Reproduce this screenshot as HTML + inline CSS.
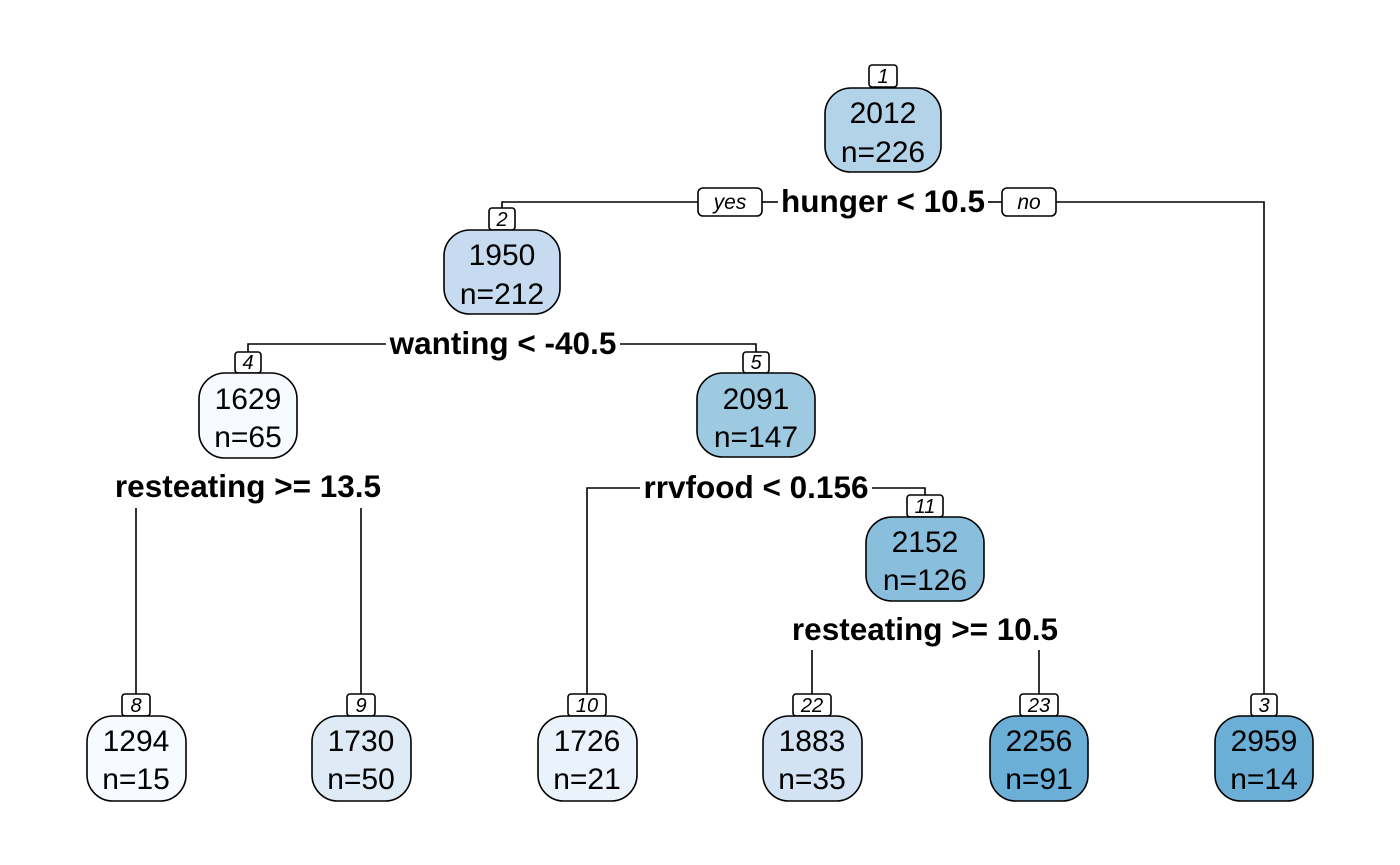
<!DOCTYPE html>
<html><head><meta charset="utf-8"><style>
html,body{margin:0;padding:0;background:#fff;}
svg{display:block;}
.n{font-family:"Liberation Sans",sans-serif;font-size:30px;text-anchor:middle;fill:#000;}
.b{font-family:"Liberation Sans",sans-serif;font-size:31.5px;font-weight:bold;text-anchor:middle;fill:#000;}
.i{font-family:"Liberation Sans",sans-serif;font-size:20px;font-style:italic;text-anchor:middle;fill:#000;}
.l{stroke:#000;stroke-width:1.6;fill:none;}
rect{stroke:#000;stroke-width:1.6;}
</style></head><body>
<svg width="1400" height="865" viewBox="0 0 1400 865" xmlns="http://www.w3.org/2000/svg">
<polyline class="l" points="502,208 502,202 698,202"/>
<line class="l" x1="762" y1="202" x2="778" y2="202"/>
<line class="l" x1="988" y1="202" x2="1002" y2="202"/>
<polyline class="l" points="1056,202 1264,202 1264,694"/>
<polyline class="l" points="248,352 248,344 386,344"/>
<polyline class="l" points="620,344 756,344 756,352"/>
<line class="l" x1="136" y1="508" x2="136" y2="694"/>
<line class="l" x1="361" y1="508" x2="361" y2="694"/>
<polyline class="l" points="640,488 587,488 587,694"/>
<polyline class="l" points="872,488 925,488 925,495"/>
<line class="l" x1="812" y1="650" x2="812" y2="694"/>
<line class="l" x1="1039" y1="650" x2="1039" y2="694"/>

<rect x="698" y="188" width="64" height="28" rx="5" fill="#fff"/>
<text class="i" x="730" y="209" style="font-size:21px">yes</text>
<rect x="1002" y="188" width="54" height="28" rx="5" fill="#fff"/>
<text class="i" x="1029" y="209" style="font-size:21px">no</text>

<text class="b" x="883" y="212">hunger &lt; 10.5</text>
<text class="b" x="503" y="354">wanting &lt; -40.5</text>
<text class="b" x="248" y="497">resteating &gt;= 13.5</text>
<text class="b" x="756" y="498">rrvfood &lt; 0.156</text>
<text class="b" x="925" y="640">resteating &gt;= 10.5</text>

<g>
<rect x="869" y="65" width="28" height="22" rx="3" fill="#fff"/><text class="i" x="883" y="83">1</text>
<rect x="825" y="88" width="116" height="84" rx="26" fill="#b3d3e8"/>
<text class="n" x="883" y="123">2012</text><text class="n" x="883" y="162">n=226</text>

<rect x="489" y="208" width="26" height="22" rx="3" fill="#fff"/><text class="i" x="502" y="226">2</text>
<rect x="444" y="230" width="116" height="84" rx="26" fill="#c6dbef"/>
<text class="n" x="502" y="265">1950</text><text class="n" x="502" y="304">n=212</text>

<rect x="235" y="352" width="26" height="21" rx="3" fill="#fff"/><text class="i" x="248" y="369">4</text>
<rect x="199" y="373" width="98" height="85" rx="26" fill="#f7fbff"/>
<text class="n" x="248" y="409">1629</text><text class="n" x="248" y="447">n=65</text>

<rect x="743" y="352" width="26" height="21" rx="3" fill="#fff"/><text class="i" x="756" y="369">5</text>
<rect x="697" y="373" width="118" height="84" rx="26" fill="#9ecae1"/>
<text class="n" x="756" y="409">2091</text><text class="n" x="756" y="447">n=147</text>

<rect x="907" y="495" width="36" height="22" rx="3" fill="#fff"/><text class="i" x="925" y="513">11</text>
<rect x="866" y="517" width="118" height="84" rx="26" fill="#89bedc"/>
<text class="n" x="925" y="552">2152</text><text class="n" x="925" y="590">n=126</text>

<rect x="122" y="694" width="28" height="22" rx="3" fill="#fff"/><text class="i" x="136" y="712">8</text>
<rect x="87" y="716" width="99" height="85" rx="26" fill="#f7fbff"/>
<text class="n" x="136" y="751">1294</text><text class="n" x="136" y="789">n=15</text>

<rect x="347" y="694" width="28" height="22" rx="3" fill="#fff"/><text class="i" x="361" y="712">9</text>
<rect x="312" y="716" width="99" height="85" rx="26" fill="#deebf7"/>
<text class="n" x="361" y="751">1730</text><text class="n" x="361" y="789">n=50</text>

<rect x="568" y="694" width="38" height="22" rx="3" fill="#fff"/><text class="i" x="587" y="712">10</text>
<rect x="538" y="716" width="99" height="85" rx="26" fill="#eaf2fb"/>
<text class="n" x="587" y="751">1726</text><text class="n" x="587" y="789">n=21</text>

<rect x="793" y="694" width="38" height="22" rx="3" fill="#fff"/><text class="i" x="812" y="712">22</text>
<rect x="763" y="716" width="99" height="85" rx="26" fill="#d3e3f3"/>
<text class="n" x="812" y="751">1883</text><text class="n" x="812" y="789">n=35</text>

<rect x="1020" y="694" width="38" height="22" rx="3" fill="#fff"/><text class="i" x="1039" y="712">23</text>
<rect x="990" y="716" width="98" height="85" rx="26" fill="#6baed6"/>
<text class="n" x="1039" y="751">2256</text><text class="n" x="1039" y="789">n=91</text>

<rect x="1251" y="694" width="26" height="22" rx="3" fill="#fff"/><text class="i" x="1264" y="712">3</text>
<rect x="1215" y="716" width="98" height="85" rx="26" fill="#6baed6"/>
<text class="n" x="1264" y="751">2959</text><text class="n" x="1264" y="789">n=14</text>
</g>
</svg>
</body></html>
